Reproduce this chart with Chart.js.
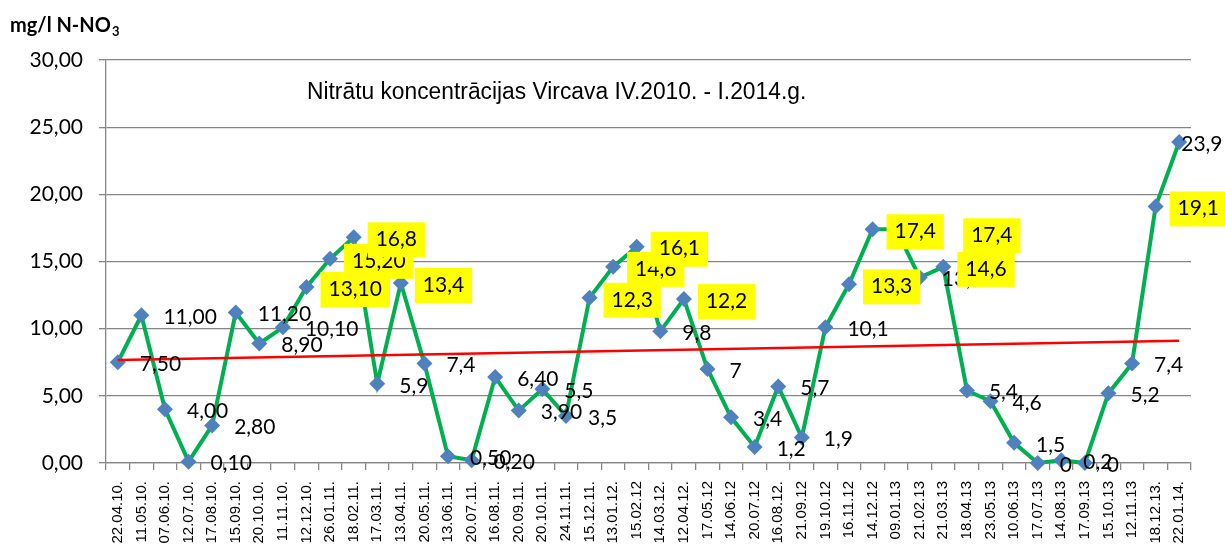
<!DOCTYPE html>
<html>
<head>
<meta charset="utf-8">
<script src="https://cdn.jsdelivr.net/npm/chart.js@4"></script>
<style>
  body { margin: 0; background: #fff; }
  canvas { display: block; }
</style>
</head>
<body>
<canvas id="nitrates" width="1225" height="549"></canvas>
<script>
// Sampling dates, as printed under the axis
const dates = [
    '22.04.10.', '11.05.10.', '07.06.10.', '12.07.10.', '17.08.10.', '15.09.10.', '20.10.10.', '11.11.10.',
    '12.12.10.', '26.01.11.', '18.02.11.', '17.03.11.', '13.04.11.', '20.05.11.', '13.06.11.', '20.07.11.',
    '16.08.11.', '20.09.11.', '20.10.11.', '24.11.11.', '15.12.11.', '13.01.12.', '15.02.12', '14.03.12.',
    '12.04.12.', '17.05.12', '14.06.12', '20.07.12', '16.08.12.', '21.09.12', '19.10.12', '16.11.12',
    '14.12.12', '09.01.13', '21.02.13', '21.03.13', '18.04.13', '23.05.13', '10.06.13', '17.07.13',
    '14.08.13', '17.09.13', '15.10.13', '12.11.13', '18.12.13.', '22.01.14.'
];

// Nitrate concentration, mg/l N-NO3
const nitrate = [
    7.5, 11.0, 4.0, 0.1, 2.8, 11.2, 8.9, 10.1,
    13.1, 15.2, 16.8, 5.9, 13.4, 7.4, 0.5, 0.2,
    6.4, 3.9, 5.5, 3.5, 12.3, 14.6, 16.1, 9.8,
    12.2, 7, 3.4, 1.2, 5.7, 1.9, 10.1, 13.3,
    17.4, 17.4, 13.8, 14.6, 5.4, 4.6, 1.5, 0,
    0.2, 0, 5.2, 7.4, 19.1, 23.9
];

// Value labels exactly as written on the chart (mixed number of decimals)
const labelTexts = [
    '7,50', '11,00', '4,00', '0,10', '2,80', '11,20', '8,90', '10,10',
    '13,10', '15,20', '16,8', '5,9', '13,4', '7,4', '0,50', '0,20',
    '6,40', '3,90', '5,5', '3,5', '12,3', '14,6', '16,1', '9,8',
    '12,2', '7', '3,4', '1,2', '5,7', '1,9', '10,1', '13,3',
    '17,4', '17,4', '13,8', '14,6', '5,4', '4,6', '1,5', '0',
    '0,2', '0', '5,2', '7,4', '19,1', '23,9'
];

// Which labels sit on a yellow background
const highlighted = [8, 9, 10, 12, 20, 21, 22, 24, 31, 32, 33, 35, 44];

// Linear trend, values at first and last sample
const trendStart = 7.66;
const trendEnd = 9.1;

const chartTitle = 'Nitrātu koncentrācijas Vircava IV.2010. - I.2014.g.';
const unitText = 'mg/l N-NO';

// labels that were dragged away from the default spot (dx, dy from the point)
const movedLabels = { 33: [75, 6], 45: [2, 2] };

const trend = dates.map((d, i) => i === 0 ? trendStart : (i === dates.length - 1 ? trendEnd : null));

const grey = '#868686';
const sansFont = "'Liberation Sans', Arial, sans-serif";

const pointLabels = {
    id: 'pointLabels',
    afterDatasetsDraw(chart) {
        const meta = chart.getDatasetMeta(1);
        const ctx = chart.ctx;
        ctx.save();
        ctx.font = '21px Lato';
        ctx.textBaseline = 'middle';
        ctx.textAlign = 'left';
        meta.data.forEach((pt, i) => {
            const [dx, dy] = movedLabels[i] || [22, 2];
            const x = pt.x + dx;
            const y = pt.y + dy;
            const text = labelTexts[i];
            if (highlighted.includes(i)) {
                const w = ctx.measureText(text).width;
                ctx.fillStyle = '#ffff00';
                ctx.fillRect(x - 8, y - 17, w + 16, 35);
            }
            ctx.fillStyle = '#000';
            ctx.fillText(text, x, y);
        });
        ctx.restore();
    }
};

const captions = {
    id: 'captions',
    afterDraw(chart) {
        const { ctx, chartArea } = chart;
        ctx.save();
        ctx.fillStyle = '#000';
        ctx.textBaseline = 'alphabetic';
        ctx.textAlign = 'left';
        // the original title is set in a condensed face, squeeze it a bit
        ctx.font = '23.5px ' + sansFont;
        ctx.translate(chartArea.left + 201, 99);
        ctx.scale(0.97, 1);
        ctx.fillText(chartTitle, 0, 0);
        ctx.setTransform(1, 0, 0, 1, 0, 0);

        // axis unit with subscript 3
        ctx.font = 'bold 20px Lato';
        ctx.fillText(unitText, 10, 32);
        const w = ctx.measureText(unitText).width;
        ctx.font = 'bold 13px Lato';
        ctx.fillText('3', 10 + w + 1, 36);
        ctx.restore();
    }
};

new Chart(document.getElementById('nitrates'), {
    type: 'line',
    data: {
        labels: dates,
        datasets: [
            {
                label: 'Trend',
                data: trend,
                borderColor: '#ff0000',
                borderWidth: 2.5,
                pointRadius: 0,
                spanGaps: true,
                fill: false,
                order: 0
            },
            {
                label: 'N-NO3',
                data: nitrate,
                borderColor: '#00b050',
                borderWidth: 4,
                tension: 0,
                pointStyle: 'rectRot',
                pointRadius: 8,
                pointBackgroundColor: '#4f81bd',
                pointBorderColor: '#4f81bd',
                pointBorderWidth: 0,
                fill: false,
                clip: false,
                order: 1
            }
        ]
    },
    options: {
        responsive: false,
        animation: false,
        layout: { padding: { top: 60, right: 34, left: 0, bottom: 0 } },
        plugins: {
            legend: { display: false },
            tooltip: { enabled: false }
        },
        scales: {
            x: {
                offset: true,
                grid: { offset: true, drawOnChartArea: false, tickLength: 7, color: grey, lineWidth: 1.3 },
                border: { color: grey, width: 1.3 },
                ticks: {
                    autoSkip: false,
                    minRotation: 90,
                    maxRotation: 90,
                    padding: 11,
                    color: '#000',
                    font: { family: sansFont, size: 15 }
                },
                afterFit(scale) { scale.height = 86; }
            },
            y: {
                min: 0,
                max: 30,
                ticks: {
                    stepSize: 5,
                    padding: 16,
                    color: '#000',
                    font: { family: 'Lato', size: 21 },
                    callback: v => v.toFixed(2).replace('.', ',')
                },
                grid: { color: grey, lineWidth: 1.3, tickLength: 7 },
                border: { color: grey, width: 1.3 },
                afterFit(scale) { scale.width = 106; }
            }
        }
    },
    plugins: [pointLabels, captions]
});
</script>
</body>
</html>
